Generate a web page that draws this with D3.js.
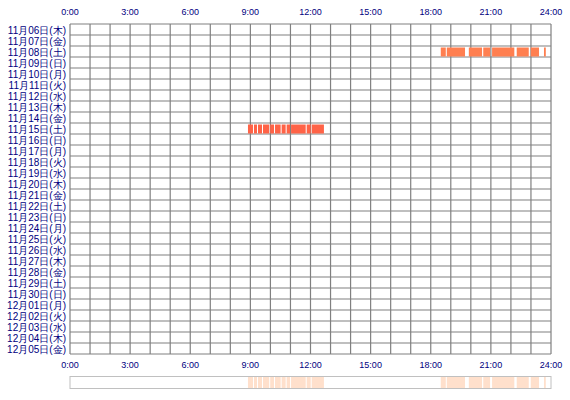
<!DOCTYPE html><html><head><meta charset="utf-8"><script src="https://cdn.jsdelivr.net/npm/d3@7"></script>
<style>body{margin:0;background:#fff}</style></head><body><svg id="c" width="570" height="400"></svg><script>
const days=["11月06日(木)","11月07日(金)","11月08日(土)","11月09日(日)","11月10日(月)","11月11日(火)","11月12日(水)","11月13日(木)","11月14日(金)","11月15日(土)","11月16日(日)","11月17日(月)","11月18日(火)","11月19日(水)","11月20日(木)","11月21日(金)","11月22日(土)","11月23日(日)","11月24日(月)","11月25日(火)","11月26日(水)","11月27日(木)","11月28日(金)","11月29日(土)","11月30日(日)","12月01日(月)","12月02日(火)","12月03日(水)","12月04日(木)","12月05日(金)"];
const tickHours=[0,3,6,9,12,15,18,21,24];
const seg08=[[18.50,18.75],[18.80,19.71],[19.90,20.56],[20.62,20.96],[21.06,22.17],[22.29,22.89],[22.99,23.40],[23.65,23.74]];
const seg15=[[8.88,9.13],[9.18,9.33],[9.38,9.58],[9.63,9.94],[9.99,10.18],[10.23,10.51],[10.56,10.76],[10.81,10.98],[11.03,11.76],[11.81,12.01],[12.06,12.67]];
const sessions=[{day:"11月08日(土)",segs:seg08,color:"#ff7f50"},{day:"11月15日(土)",segs:seg15,color:"#ff6347"}];
const svg=d3.select("#c");
const x=d3.scaleLinear().domain([0,24]).range([70,551]);
const y=d3.scaleBand().domain(days).range([24,354]);
const font="'Liberation Sans',Arial,sans-serif";
// grid
const g=svg.append("g").attr("stroke","#808080").attr("stroke-width",1.2);
d3.range(0,25).forEach(h=>g.append("line").attr("x1",x(h)).attr("x2",x(h)).attr("y1",24).attr("y2",354));
days.forEach(d=>g.append("line").attr("x1",70).attr("x2",551).attr("y1",y(d)).attr("y2",y(d)));
g.append("line").attr("x1",70).attr("x2",551).attr("y1",354).attr("y2",354);
// bars
sessions.forEach(s=>{
 svg.append("g").selectAll("rect").data(s.segs).join("rect")
  .attr("x",d=>x(d[0])).attr("width",d=>x(d[1])-x(d[0]))
  .attr("y",y(s.day)+1.5).attr("height",y.bandwidth()-2).attr("fill",s.color);
});
// labels
svg.append("g").selectAll("text").data(days).join("text")
 .attr("x",66).attr("y",d=>y(d)+y.bandwidth()/2+4).attr("text-anchor","end")
 .attr("font-family",font).attr("font-size",10).attr("fill","#000080").text(d=>d);
[15,368].forEach(yy=>svg.append("g").selectAll("text").data(tickHours).join("text")
 .attr("x",d=>x(d)).attr("y",yy).attr("text-anchor","middle")
 .attr("font-family",font).attr("font-size",9).attr("fill","#000080").text(d=>d+":00"));
// summary
const all=sessions.flatMap(s=>s.segs);
svg.append("g").selectAll("rect").data(all).join("rect")
 .attr("x",d=>x(d[0])).attr("width",d=>x(d[1])-x(d[0])).attr("y",377).attr("height",11).attr("fill","#ffe0cc");
svg.append("rect").attr("x",70).attr("y",376.5).attr("width",481).attr("height",12).attr("fill","none").attr("stroke","#c0c0c0");
</script></body></html>
